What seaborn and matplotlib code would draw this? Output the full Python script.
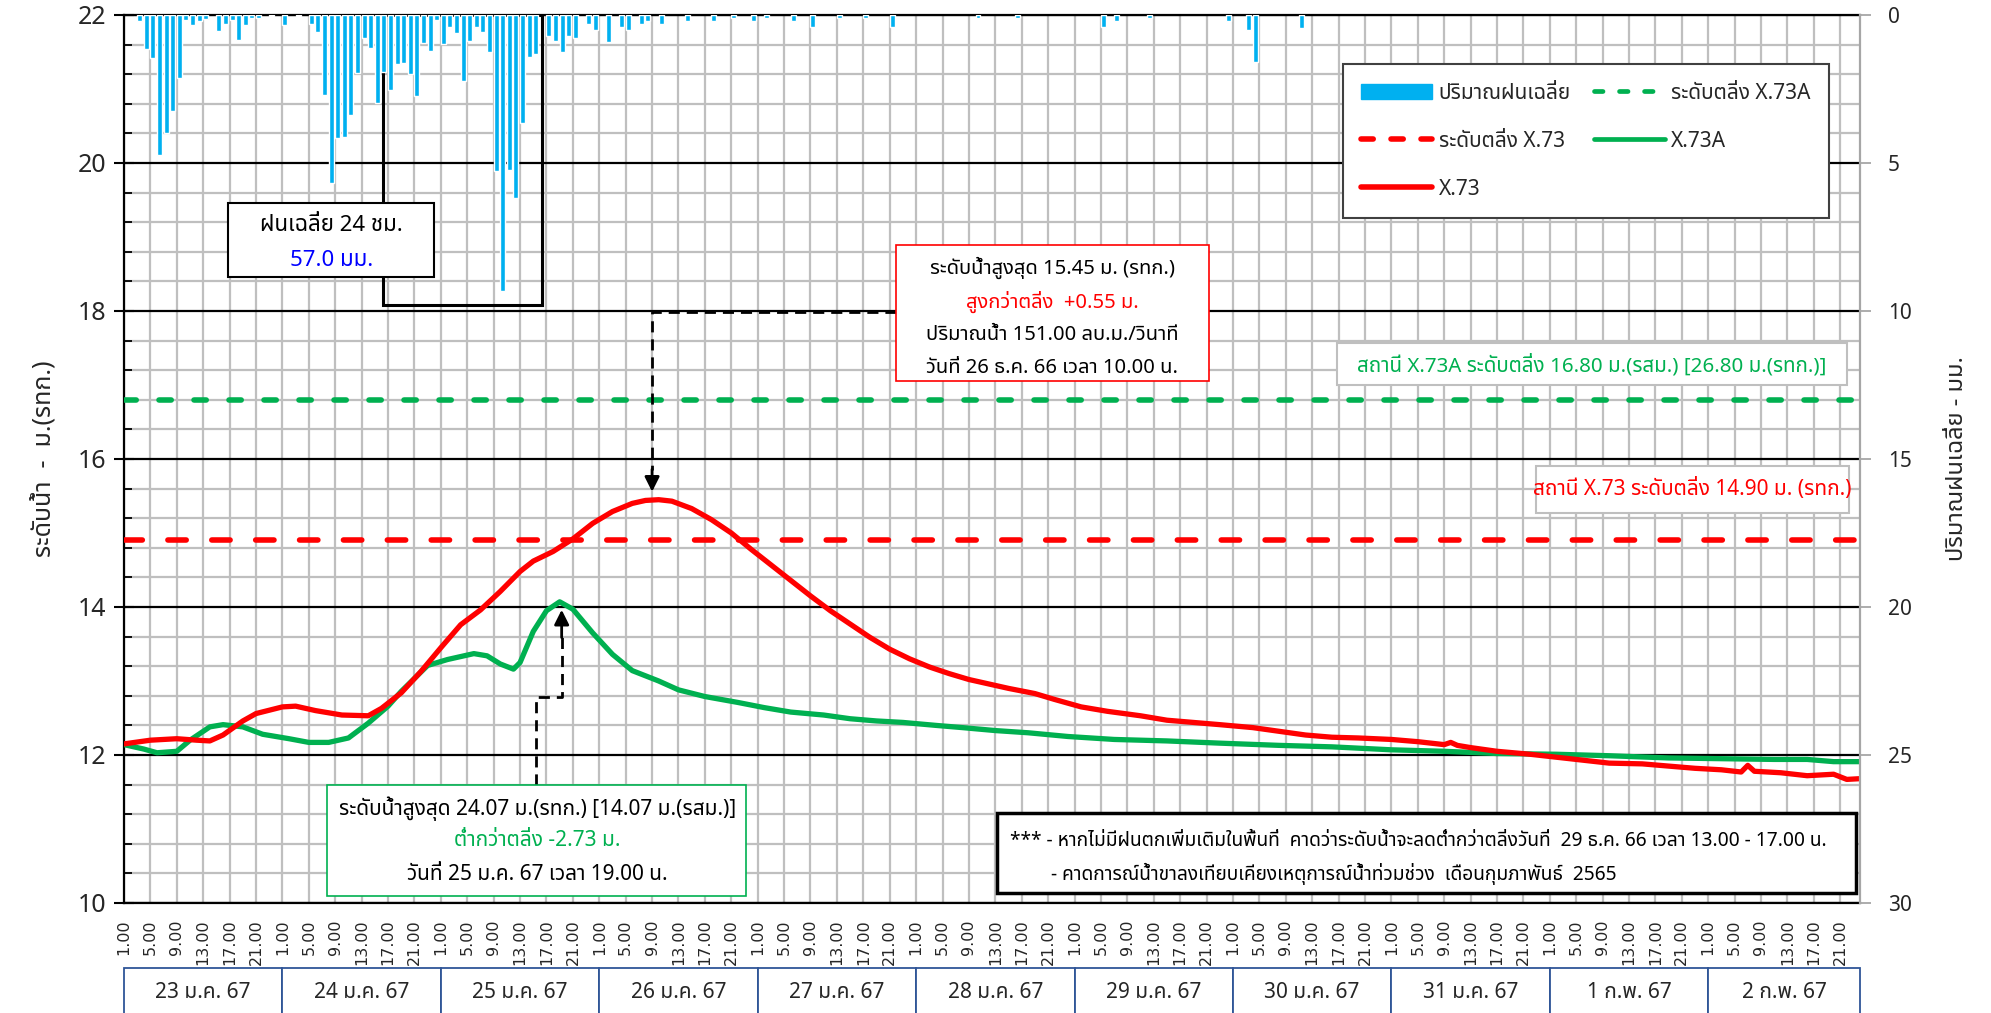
import numpy as np
import matplotlib
matplotlib.use('Agg')
import matplotlib.pyplot as plt
import matplotlib.transforms as mtransforms
import seaborn as sns
from matplotlib import font_manager
from matplotlib.ft2font import FT2Font
from matplotlib.patches import Rectangle, Patch
from matplotlib.lines import Line2D
from matplotlib.ticker import MultipleLocator

# hour 0 = 23 ม.ค. 67 at 1.00, one step = 1 hour
day_labels = ['23 ม.ค. 67', '24 ม.ค. 67', '25 ม.ค. 67', '26 ม.ค. 67', '27 ม.ค. 67',
              '28 ม.ค. 67', '29 ม.ค. 67', '30 ม.ค. 67', '31 ม.ค. 67', '1 ก.พ. 67', '2 ก.พ. 67']
hour_labels = ['1.00', '5.00', '9.00', '13.00', '17.00', '21.00']

# water level X.73 (m. รทก.)
x73_hours = [0, 4, 8, 11, 13, 15, 18, 20, 24, 26, 29, 33, 37, 39, 42, 45, 48, 51, 54, 57,
             60, 62, 65, 68, 71, 74, 77, 79, 81, 83, 86, 89, 92, 95, 98, 101, 104, 107, 110,
             113, 116, 119, 122, 125, 128, 131, 134, 138, 141, 145, 149, 154, 158, 162, 166,
             171, 175, 179, 183, 187, 192, 196, 200, 201, 202, 204, 208, 213, 217, 221, 225,
             230, 234, 238, 242, 245, 246, 247, 251, 255, 259, 261, 263]
x73_level = [12.15, 12.20, 12.22, 12.20, 12.19, 12.27, 12.46, 12.56, 12.65, 12.66, 12.60,
             12.54, 12.53, 12.63, 12.84, 13.13, 13.45, 13.76, 13.96, 14.21, 14.48, 14.62,
             14.75, 14.92, 15.13, 15.29, 15.40, 15.44, 15.45, 15.43, 15.33, 15.18, 15.00,
             14.78, 14.57, 14.36, 14.15, 13.95, 13.77, 13.59, 13.43, 13.30, 13.19, 13.10,
             13.02, 12.96, 12.90, 12.83, 12.75, 12.65, 12.59, 12.53, 12.47, 12.44, 12.41,
             12.37, 12.32, 12.27, 12.24, 12.23, 12.21, 12.18, 12.14, 12.17, 12.13, 12.10,
             12.05, 12.01, 11.97, 11.93, 11.89, 11.88, 11.85, 11.82, 11.80, 11.77, 11.86,
             11.78, 11.76, 11.72, 11.74, 11.67, 11.68]

# water level X.73A
x73a_hours = [0, 3, 5, 8, 10, 13, 15, 18, 21, 25, 28, 31, 34, 37, 40, 42, 46, 49, 53, 55,
              57, 59, 60, 62, 64, 66, 68, 71, 74, 77, 81, 84, 88, 93, 97, 101, 106, 110, 114,
              118, 123, 127, 132, 137, 143, 150, 158, 166, 175, 183, 192, 200, 208, 217, 225,
              234, 242, 250, 255, 259, 263]
x73a_level = [12.14, 12.08, 12.03, 12.05, 12.20, 12.38, 12.41, 12.38, 12.28, 12.22, 12.17,
              12.17, 12.23, 12.43, 12.66, 12.86, 13.21, 13.29, 13.37, 13.34, 13.23, 13.16,
              13.25, 13.67, 13.95, 14.07, 13.97, 13.65, 13.36, 13.14, 13.00, 12.88, 12.79,
              12.71, 12.64, 12.58, 12.54, 12.49, 12.46, 12.44, 12.40, 12.37, 12.33, 12.30,
              12.25, 12.21, 12.19, 12.16, 12.13, 12.11, 12.07, 12.05, 12.02, 12.01, 11.99,
              11.96, 11.95, 11.94, 11.94, 11.91, 11.91]

# average rain per hour (mm)
rain_hours = [2, 3, 4, 5, 6, 7, 8, 9, 10, 11, 12, 14, 15, 16, 17, 18, 19, 20, 22, 24, 26, 28,
              29, 30, 31, 32, 33, 34, 35, 36, 37, 38, 39, 40, 41, 42, 43, 44, 45, 46, 47, 48,
              49, 50, 51, 52, 53, 54, 55, 56, 57, 58, 59, 60, 61, 62, 64, 65, 66, 67, 68, 70,
              71, 73, 75, 76, 78, 79, 81, 85, 89, 92, 95, 97, 101, 104, 108, 112, 116, 129,
              135, 148, 150, 155, 167, 170, 171, 178]
rain_mm = [0.2, 1.15, 1.44, 4.73, 3.98, 3.24, 2.14, 0.17, 0.34, 0.2, 0.13, 0.54, 0.32, 0.17,
           0.84, 0.34, 0.11, 0.11, 0.05, 0.34, 0.05, 0.32, 0.59, 2.7, 5.69, 4.17, 4.11, 3.38,
           1.97, 0.79, 1.13, 2.98, 1.91, 2.53, 1.67, 1.63, 2.0, 2.74, 0.96, 1.22, 0.17, 0.97,
           0.39, 0.62, 2.23, 0.88, 0.39, 0.59, 1.26, 5.27, 9.32, 5.24, 6.19, 3.66, 1.41, 1.33,
           0.7, 0.88, 1.24, 0.7, 0.79, 0.3, 0.5, 0.9, 0.4, 0.5, 0.3, 0.2, 0.3, 0.2, 0.2, 0.1,
           0.2, 0.1, 0.2, 0.4, 0.1, 0.1, 0.4, 0.1, 0.1, 0.4, 0.2, 0.1, 0.2, 0.5, 1.6, 0.45]

bank_x73 = 14.90
bank_x73a = 16.80

RED = '#FF0000'
GREEN = '#00B050'
BLUE = '#00B0F0'
GRID = '#BFBFBF'


def find_thai_font():
    # first installed family that can draw Thai
    preferred = ['Tahoma', 'Leelawadee UI', 'Noto Sans Thai', 'Noto Sans Thai UI', 'Sarabun',
                 'Loma', 'Garuda', 'Waree', 'Norasi', 'Kinnari', 'Umpush', 'Sawasdee']
    found = {}
    for f in font_manager.fontManager.ttflist:
        if 'CJK' in f.name:
            continue
        try:
            if 0x0E01 in FT2Font(f.fname).get_charmap():
                found.setdefault(f.name, f.fname)
        except Exception:
            continue
    for name in preferred:
        if name in found:
            return name
    return next(iter(found), None)


sns.set_theme(style='white')
thai = find_thai_font()
plt.rcParams['font.family'] = [thai, 'DejaVu Sans'] if thai else ['DejaVu Sans']
plt.rcParams['axes.unicode_minus'] = False

fig = plt.figure(figsize=(19.91, 10.13), dpi=100)
ax = fig.add_axes([0.0623, 0.1086, 0.8719, 0.8766])
ax2 = ax.twinx()

# water levels
sns.lineplot(x=x73a_hours, y=x73a_level, ax=ax, color=GREEN, lw=3.8, zorder=3)
sns.lineplot(x=x73_hours, y=x73_level, ax=ax, color=RED, lw=3.8, zorder=4)
ax.axhline(bank_x73a, color=GREEN, lw=4, dashes=(2.2, 4.1), dash_capstyle='round', zorder=3)
ax.axhline(bank_x73, color=RED, lw=4, dashes=(3.3, 4.6), dash_capstyle='round', zorder=3)

# rain bars hanging from the top
ax2.bar(rain_hours, rain_mm, width=0.75, align='edge', color=BLUE, zorder=2)

ax.set_xlim(0, 263)
ax.set_ylim(10, 22)
ax2.set_ylim(30, 0)

xt = np.arange(0, 263, 4)
ax.set_xticks(xt)
ax.set_xticklabels([hour_labels[i % 6] for i in range(len(xt))], rotation=90, fontsize=11.5,
                   family='DejaVu Sans')
ax.set_yticks(np.arange(10, 23, 2))
ax.yaxis.set_minor_locator(MultipleLocator(0.4))
ax.tick_params(axis='x', direction='out', length=7, width=1.3, color='black', pad=5)
ax.tick_params(axis='y', which='major', direction='inout', length=14, width=1.5,
               color='black', labelsize=18, pad=6)
ax.tick_params(axis='y', which='minor', direction='in', length=6, width=1.3, color='black')
ax.grid(which='major', axis='x', color=GRID, lw=1.6)
ax.grid(which='minor', axis='y', color=GRID, lw=1.6)
ax.grid(which='major', axis='y', color='black', lw=1.6)
ax.set_axisbelow(True)

ax2.set_yticks(np.arange(0, 31, 5))
ax2.tick_params(axis='y', direction='out', length=8, width=1.3, color='#A6A6A6',
                labelsize=15, pad=12)
for name, sp in ax.spines.items():
    sp.set_visible(name != 'right')
    sp.set_color('black')
    sp.set_linewidth(1.6)
for name, sp in ax2.spines.items():
    sp.set_visible(name == 'right')
    sp.set_color('#A6A6A6')
    sp.set_linewidth(1.6)

ax.set_ylabel('ระดับน้ำ  -  ม.(รทก.)', fontsize=18, fontweight='bold')
ax.yaxis.set_label_coords(-0.039, 0.5)
ax2.set_ylabel('ปริมาณฝนเฉลี่ย - มม.', fontsize=17, fontweight='bold', rotation=90)
ax2.yaxis.set_label_coords(1.049, 0.5)


def box(x0, x1, y0, y1, edge, lw):
    ax.add_patch(Rectangle((x0, y0), x1 - x0, y1 - y0, facecolor='white', edgecolor=edge,
                           lw=lw, zorder=6))


def line(x, y, s, color='black', size=14, ha='center'):
    ax.text(x, y, s, color=color, fontsize=size, ha=ha, va='center', zorder=7)


# 24 hr rain window + its label
ax.add_patch(Rectangle((39.3, 18.08), 24, 3.92, fill=False, edgecolor='black', lw=2.2,
                       zorder=5))
box(15.8, 46.9, 18.46, 19.46, 'black', 1.5)
line(31.4, 19.15, 'ฝนเฉลี่ย 24 ชม.', size=16)
line(31.4, 18.68, '57.0 มม.', color='#0000FF', size=16)

# peak X.73
ax.plot([117, 80, 80], [17.98, 17.98, 15.85], color='black', lw=2, ls=(0, (4, 2.5)), zorder=5)
ax.annotate('', xy=(80, 15.52), xytext=(80, 15.9),
            arrowprops=dict(arrowstyle='-|>', color='black', lw=2, mutation_scale=22), zorder=5)
box(117.0, 164.3, 17.06, 18.89, RED, 1.2)
line(140.6, 18.58, 'ระดับน้ำสูงสุด 15.45 ม. (รทก.)', size=14.5)
line(140.6, 18.12, 'สูงกว่าตลิ่ง  +0.55 ม.', color=RED, size=14.5)
line(140.6, 17.67, 'ปริมาณน้ำ 151.00 ลบ.ม./วินาที', size=14.5)
line(140.6, 17.23, 'วันที่ 26 ธ.ค. 66 เวลา 10.00 น.', size=14.5)

# peak X.73A
ax.plot([62.4, 62.4, 66.3, 66.3], [11.6, 12.78, 12.78, 13.6], color='black', lw=2,
        ls=(0, (4, 2.5)), zorder=5)
ax.annotate('', xy=(66.3, 14.0), xytext=(66.3, 13.55),
            arrowprops=dict(arrowstyle='-|>', color='black', lw=2, mutation_scale=22), zorder=5)
box(30.8, 94.3, 10.1, 11.6, GREEN, 1.2)
line(62.6, 11.27, 'ระดับน้ำสูงสุด 24.07 ม.(รทก.) [14.07 ม.(รสม.)]', size=15)
line(62.6, 10.84, 'ต่ำกว่าตลิ่ง -2.73 ม.', color=GREEN, size=15)
line(62.6, 10.38, 'วันที่ 25 ม.ค. 67 เวลา 19.00 น.', size=15)

# bank labels
box(183.7, 261.0, 17.0, 17.57, GRID, 1.5)
line(222.4, 17.27, 'สถานี X.73A ระดับตลิ่ง 16.80 ม.(รสม.) [26.80 ม.(รทก.)]', color=GREEN,
     size=14.8)
box(213.9, 261.4, 15.27, 15.91, GRID, 1.5)
line(237.6, 15.6, 'สถานี X.73 ระดับตลิ่ง 14.90 ม. (รทก.)', color=RED, size=15)

# forecast note
box(132.2, 262.4, 10.14, 11.22, 'black', 2.5)
line(134.3, 10.84, '*** - หากไม่มีฝนตกเพิ่มเติมในพื้นที่  คาดว่าระดับน้ำจะลดต่ำกว่าตลิ่งวันที่  '
     '29 ธ.ค. 66 เวลา 13.00 - 17.00 น.', size=13.8, ha='left')
line(140.5, 10.39, '- คาดการณ์น้ำขาลงเทียบเคียงเหตุการณ์น้ำท่วมช่วง  เดือนกุมภาพันธ์  2565',
     size=13.8, ha='left')

# date row below the hour labels
trans = mtransforms.blended_transform_factory(ax.transData, ax.transAxes)
day_edges = list(range(0, 241, 24)) + [263]
for i, lab in enumerate(day_labels):
    x0, x1 = day_edges[i], day_edges[i + 1]
    ax.add_patch(Rectangle((x0, -0.14), x1 - x0, 0.067, transform=trans, clip_on=False,
                           facecolor='white', edgecolor='#2F5597', lw=1.3))
    ax.text((x0 + x1) / 2, -0.101, lab, transform=trans, ha='center', va='center', fontsize=15)

# legend
handles = [Patch(facecolor=BLUE, edgecolor=BLUE),
           Line2D([], [], color=RED, lw=4, dashes=(2.2, 3.2), dash_capstyle='round'),
           Line2D([], [], color=RED, lw=4, solid_capstyle='round'),
           Line2D([], [], color=GREEN, lw=3.4, dashes=(1.8, 3.5), dash_capstyle='round'),
           Line2D([], [], color=GREEN, lw=3.4, solid_capstyle='round')]
labels = ['ปริมาณฝนเฉลี่ย', 'ระดับตลิ่ง X.73', 'X.73', 'ระดับตลิ่ง X.73A', 'X.73A']
leg = ax2.legend(handles, labels, ncol=2, loc='upper left', bbox_to_anchor=(0.702, 0.945),
                 borderaxespad=0, frameon=True, fancybox=False, edgecolor='#404040',
                 framealpha=1, fontsize=15, handlelength=3.4, labelspacing=1.3,
                 columnspacing=1.1, borderpad=0.9, handletextpad=0.3)
leg.get_frame().set_linewidth(1.5)
leg.set_zorder(10)

fig.savefig('out.png', dpi=100)
